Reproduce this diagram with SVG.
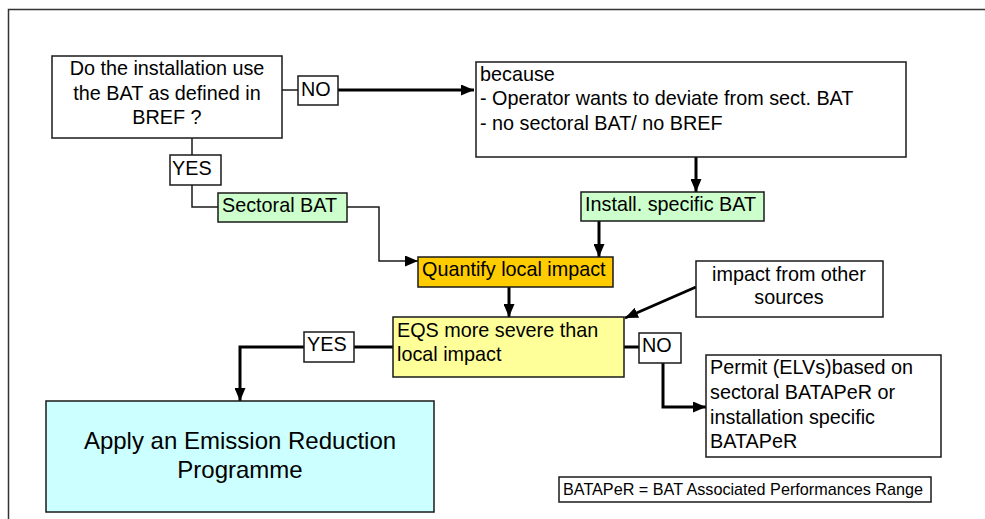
<svg xmlns="http://www.w3.org/2000/svg" width="985" height="519" viewBox="0 0 985 519">
<style>
text{font-family:"Liberation Sans",Arial,sans-serif;font-size:19.8px;fill:#000}
.box{stroke:#1a1a1a;stroke-width:1.5;fill:#fff}
.thin{fill:none;stroke:#1a1a1a;stroke-width:1.5}
.thick{fill:none;stroke:#000;stroke-width:3}
.c{text-anchor:middle}
</style>
<defs>
<marker id="ah" viewBox="0 0 13 11" refX="13" refY="5.5" markerWidth="13" markerHeight="11" markerUnits="userSpaceOnUse" orient="auto">
<path d="M0,0 L13,5.5 L0,11 z" fill="#000"/>
</marker>
</defs>
<rect width="985" height="519" fill="#fff"/>
<path d="M8.5,519 V9.5 H985" fill="none" stroke="#333" stroke-width="1.5"/>

<g id="connectors">
<path class="thin" d="M282,90 H298"/>
<path class="thick" d="M338,90 H474" marker-end="url(#ah)"/>
<path class="thin" d="M192,138 V155 M192,185 V207 H218"/>
<path class="thin" d="M347,207 H379 V261 H418" marker-end="url(#ah)"/>
<path class="thick" d="M696,157 V192" marker-end="url(#ah)"/>
<path class="thick" d="M599,221 V257" marker-end="url(#ah)"/>
<path class="thick" d="M509,287 V317" marker-end="url(#ah)"/>
<path class="thick" d="M696,287 L625,318" marker-end="url(#ah)"/>
<path class="thick" d="M393,347 H354 M304,347 H240 V401" marker-end="url(#ah)"/>
<path class="thick" d="M624,347 H639 M663,363 V407 H706" marker-end="url(#ah)"/>
</g>

<g id="q1">
<rect class="box" x="52" y="56" width="230" height="82"/>
<text class="c" x="167" y="75">Do the installation use</text>
<text class="c" x="167" y="100">the BAT as defined in</text>
<text class="c" x="167" y="124">BREF ?</text>
</g>
<g id="no1">
<rect class="box" x="298" y="76" width="40" height="29"/>
<text x="301" y="96">NO</text>
</g>
<g id="because">
<rect class="box" x="476" y="62" width="430" height="95"/>
<text x="480" y="81">because</text>
<text x="480" y="105">- Operator wants to deviate from sect. BAT</text>
<text x="480" y="130">- no sectoral BAT/ no BREF</text>
</g>
<g id="yes1">
<rect class="box" x="170" y="155" width="51" height="30"/>
<text x="172" y="175">YES</text>
</g>
<g id="sectoral">
<rect class="box" x="218" y="193" width="129" height="29" style="fill:#ccffcc"/>
<text x="222" y="212">Sectoral BAT</text>
</g>
<g id="install">
<rect class="box" x="581" y="192" width="183" height="29" style="fill:#ccffcc"/>
<text x="585" y="211">Install. specific BAT</text>
</g>
<g id="quantify">
<rect class="box" x="418" y="257" width="195" height="30" style="fill:#ffcc00"/>
<text x="422" y="276">Quantify local impact</text>
</g>
<g id="impact">
<rect class="box" x="696" y="261" width="187" height="56"/>
<text class="c" x="789" y="281">impact from other</text>
<text class="c" x="789" y="304">sources</text>
</g>
<g id="eqs">
<rect class="box" x="393" y="317" width="231" height="60" style="fill:#ffff99"/>
<text x="397" y="337">EQS more severe than</text>
<text x="397" y="361">local impact</text>
</g>
<g id="yes2">
<rect class="box" x="304" y="332" width="50" height="30"/>
<text x="307" y="351">YES</text>
</g>
<g id="no2">
<rect class="box" x="639" y="333" width="42" height="30"/>
<text x="642" y="352">NO</text>
</g>
<g id="permit">
<rect class="box" x="706" y="355" width="235" height="102"/>
<text x="710" y="374">Permit (ELVs)based on</text>
<text x="710" y="399">sectoral BATAPeR or</text>
<text x="710" y="424">installation specific</text>
<text x="710" y="448">BATAPeR</text>
</g>
<g id="apply">
<rect class="box" x="46" y="401" width="388" height="111" style="fill:#ccffff"/>
<text class="c" x="240" y="449" style="font-size:24px">Apply an Emission Reduction</text>
<text class="c" x="240" y="478" style="font-size:24px">Programme</text>
</g>
<g id="legend">
<rect class="box" x="559" y="477" width="372" height="25"/>
<text x="563" y="495" style="font-size:16.2px">BATAPeR = BAT Associated Performances Range</text>
</g>
</svg>
